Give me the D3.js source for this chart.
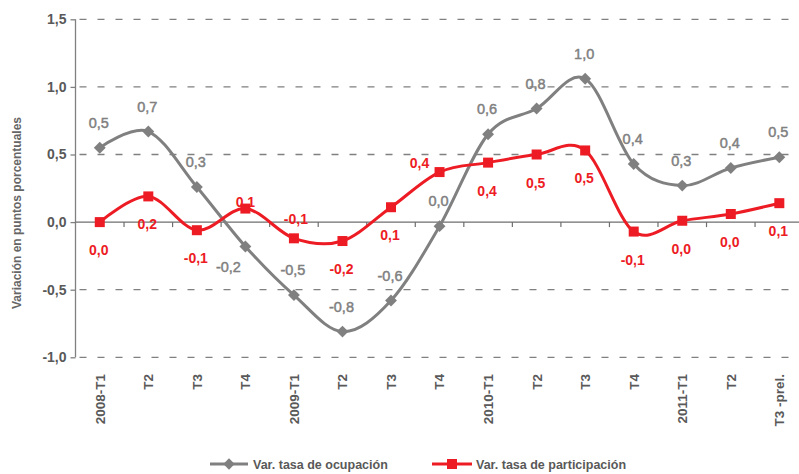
<!DOCTYPE html>
<html><head><meta charset="utf-8">
<script src="https://cdn.jsdelivr.net/npm/d3@7"></script>
<style>
html,body{margin:0;padding:0;background:#fff;}
svg{display:block;font-family:"Liberation Sans",Arial,sans-serif;}
</style></head>
<body>
<svg id="chart" width="799" height="474"></svg>
<script>
const categories = ["2008-T1","T2","T3","T4","2009-T1","T2","T3","T4","2010-T1","T2","T3","T4","2011-T1","T2","T3 -prel."];
const ocupacion = [0.55,0.67,0.26,-0.18,-0.54,-0.81,-0.58,-0.03,0.65,0.84,1.06,0.43,0.27,0.40,0.48];
const participacion = [0.00,0.19,-0.06,0.10,-0.12,-0.14,0.11,0.37,0.44,0.50,0.53,-0.07,0.01,0.06,0.14];
const ocupacionLabels = ["0,5","0,7","0,3","-0,2","-0,5","-0,8","-0,6","0,0","0,6","0,8","1,0","0,4","0,3","0,4","0,5"];
const participacionLabels = ["0,0","0,2","-0,1","0,1","-0,1","-0,2","0,1","0,4","0,4","0,5","0,5","-0,1","0,0","0,0","0,1"];
const yTicks = [-1.0,-0.5,0.0,0.5,1.0,1.5];
const seriesNames = ["Var. tasa de ocupación","Var. tasa de participación"];
const yTitle = "Variación en puntos porcentuales";

const GRAY = "#808080", RED = "#ed1c24", TXT = "#595959";
const svg = d3.select("#chart");
const x = d3.scaleBand().domain(d3.range(categories.length)).range([75.5, 75.5 + 15*48.54]).padding(0);
const y = d3.scaleLinear().domain([-1, 1.5]).range([357.3, 19.3]);
const cx = i => x(i) + x.bandwidth()/2;

// gridlines
svg.append("g").selectAll("line").data(yTicks.filter(v => v !== 0)).join("line")
  .attr("x1", x.range()[0]).attr("x2", 810)
  .attr("y1", d => y(d)).attr("y2", d => y(d))
  .attr("stroke", GRAY).attr("stroke-width", 1.3).attr("stroke-dasharray", "7,11").attr("stroke-dashoffset", -4);

// y axis
const yAxis = svg.append("g").attr("transform", `translate(${x.range()[0]},0)`)
  .call(d3.axisLeft(y).tickValues(yTicks).tickSize(5).tickPadding(4)
    .tickFormat(d => d3.format(".1f")(d).replace(".", ",").replace("−","-")));
yAxis.select(".domain").attr("stroke", GRAY).attr("stroke-width", 1.3).attr("d", `M0,${y(1.5)}V${y(-1)}`);
yAxis.selectAll(".tick line").attr("stroke", GRAY).attr("stroke-width", 1.3);
yAxis.selectAll(".tick text").attr("fill", TXT).attr("font-size", 14).attr("font-weight", "bold")
  .attr("font-family", "Liberation Sans, Arial, sans-serif");

// zero axis with category ticks
const xAxis = svg.append("g").attr("transform", `translate(0,${y(0)})`)
  .call(d3.axisBottom(x).tickSize(0).tickFormat(""));
xAxis.select(".domain").attr("stroke", "#6e6e6e").attr("stroke-width", 1.3).attr("d", `M${x.range()[0]},0H810`);
xAxis.selectAll(".tick").remove();
xAxis.selectAll("line.bt").data(d3.range(1, categories.length)).join("line").attr("class","bt")
  .attr("x1", i => x(i)).attr("x2", i => x(i)).attr("y1", 0).attr("y2", 5)
  .attr("stroke", "#6e6e6e").attr("stroke-width", 1.2);

// category labels
svg.append("g").selectAll("text").data(categories).join("text")
  .attr("transform", (d, i) => `translate(${cx(i)},374) rotate(-90)`)
  .attr("text-anchor", "end").attr("dy", "0.36em")
  .attr("fill", TXT).attr("font-size", 13.5).attr("font-weight", "bold")
  .text(d => d);

// y title
svg.append("text").attr("transform", "translate(17,213) rotate(-90)")
  .attr("text-anchor", "middle").attr("dy", "0.35em")
  .attr("fill", "#666").attr("font-size", 12).attr("font-weight", "bold").text(yTitle);

const line = d3.line().x((d, i) => cx(i)).y(d => y(d)).curve(d3.curveCardinal.tension(0));

// series lines
svg.append("path").datum(ocupacion).attr("d", line).attr("fill", "none")
  .attr("stroke", GRAY).attr("stroke-width", 3);
svg.append("path").datum(participacion).attr("d", line).attr("fill", "none")
  .attr("stroke", RED).attr("stroke-width", 3);

// markers
svg.append("g").selectAll("rect").data(ocupacion).join("rect")
  .attr("x", -4.2).attr("y", -4.2).attr("width", 8.4).attr("height", 8.4)
  .attr("transform", (d, i) => `translate(${cx(i)},${y(d)}) rotate(45)`)
  .attr("fill", GRAY);
svg.append("g").selectAll("rect").data(participacion).join("rect")
  .attr("x", (d, i) => cx(i) - 5).attr("y", d => y(d) - 5).attr("width", 10).attr("height", 10)
  .attr("fill", RED);

// data labels
const grayOff = {3: [-17, 20]};
const redOff = {3: [0, -7], 4: [2, -19], 7: [-20, -9]};
svg.append("g").selectAll("text").data(ocupacion).join("text")
  .attr("x", (d, i) => cx(i) + (grayOff[i] ? grayOff[i][0] : -1))
  .attr("y", (d, i) => y(d) + (grayOff[i] ? grayOff[i][1] : -25))
  .attr("dy", "0.36em").attr("text-anchor", "middle")
  .attr("fill", GRAY).attr("stroke", GRAY).attr("stroke-width", 0.45).attr("font-size", 14.5)
  .text((d, i) => ocupacionLabels[i]);
svg.append("g").selectAll("text").data(participacion).join("text")
  .attr("x", (d, i) => cx(i) + (redOff[i] ? redOff[i][0] : -1))
  .attr("y", (d, i) => y(d) + (redOff[i] ? redOff[i][1] : 28))
  .attr("dy", "0.36em").attr("text-anchor", "middle")
  .attr("fill", RED).attr("font-size", 14).attr("font-weight", "bold")
  .text((d, i) => participacionLabels[i]);

// legend
const leg = svg.append("g").attr("transform", "translate(0,464)");
leg.append("line").attr("x1", 210).attr("x2", 248).attr("y1", 0).attr("y2", 0).attr("stroke", GRAY).attr("stroke-width", 3);
leg.append("rect").attr("x", -4).attr("y", -4).attr("width", 8).attr("height", 8)
  .attr("transform", "translate(229,0) rotate(45)").attr("fill", GRAY);
leg.append("text").attr("x", 253).attr("y", 0).attr("dy", "0.36em").attr("fill", TXT)
  .attr("font-size", 12.5).attr("font-weight", "bold").text(seriesNames[0]);
leg.append("line").attr("x1", 432).attr("x2", 472).attr("y1", 0).attr("y2", 0).attr("stroke", RED).attr("stroke-width", 3);
leg.append("rect").attr("x", 447).attr("y", -5).attr("width", 10).attr("height", 10).attr("fill", RED);
leg.append("text").attr("x", 476).attr("y", 0).attr("dy", "0.36em").attr("fill", TXT)
  .attr("font-size", 12.5).attr("font-weight", "bold").text(seriesNames[1]);
</script>
</body></html>
